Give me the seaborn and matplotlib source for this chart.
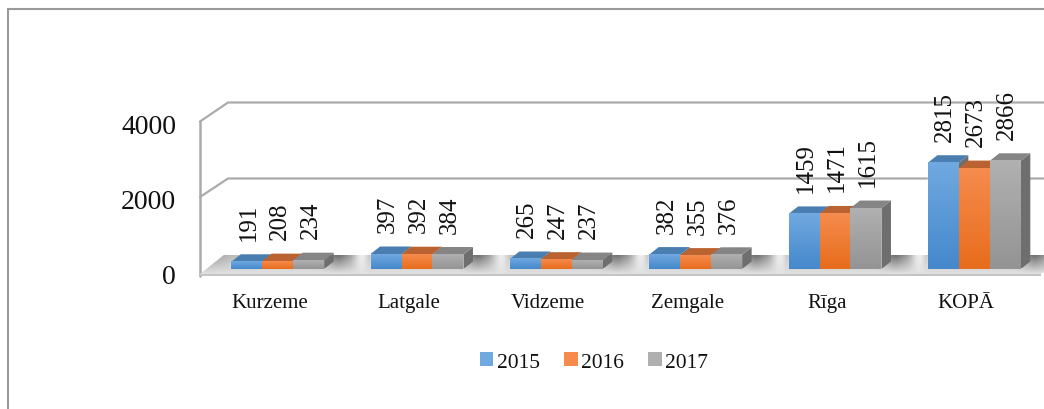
#!/usr/bin/env python3
# -*- coding: utf-8 -*-
import numpy as np
import pandas as pd
import seaborn as sns
import matplotlib.pyplot as plt
from matplotlib.patches import Polygon, Rectangle
from matplotlib.colors import LinearSegmentedColormap
from matplotlib.transforms import Affine2D

regions = ["Kurzeme", "Latgale", "Vidzeme", "Zemgale", "Rīga", "KOPĀ"]
years = ["2015", "2016", "2017"]
v2015 = [191, 397, 265, 382, 1459, 2815]
v2016 = [208, 392, 247, 355, 1471, 2673]
v2017 = [234, 384, 237, 376, 1615, 2866]
yticks = [0, 2000, 4000]

W, H = 1044, 410
colors = {"2015": "#5b9bd5", "2016": "#ed7d31", "2017": "#a5a5a5"}
top_cols = {"2015": "#4a7eb0", "2016": "#bb6330", "2017": "#858585"}
side_col = "#6e6e6e"
grad = {"2015": ("#70a8e0", "#4589cc"), "2016": ("#f58b4d", "#e86d1c"), "2017": ("#b0b0b0", "#949494")}
WALL = "#ababab"

df = pd.DataFrame({"region": regions * 3,
                   "year": [y for y in years for _ in regions],
                   "value": v2015 + v2016 + v2017})

sns.set_theme(style="white")
plt.rcParams["font.family"] = ["Liberation Serif", "DejaVu Serif"]

fig = plt.figure(figsize=(W / 100, H / 100), dpi=100)
ax = fig.add_axes([208 / W, 1 - 270 / H, (1044 - 208) / W, 151 / H])
sns.barplot(data=df, x="region", y="value", hue="year", palette=colors,
            order=regions, hue_order=years, width=0.667, gap=0, saturation=1,
            errorbar=None, ax=ax, zorder=5, legend=False)
ax.set_xlim(-0.5, 5.5)
ax.set_ylim(0, 4000)

# глубина "3D" в единицах данных
PX = 139.4
PY = 151 / 4000
DX, DY = 9.5 / PX, 7.5 / PY


def xd(px):
    return (px - 208) / PX - 0.5


def yd(py):
    return (270 - py) / PY


def deco(pts, **kw):
    ax.add_patch(Polygon(pts, closed=True, clip_on=False, **kw))


# стены и сетка
wl, wb = xd(200), xd(228)
zero_f, zero_b = yd(277), yd(256)
for py_f, py_b in [(198, 179.5), (122.5, 103.5)]:
    ax.plot([wl, wb, xd(1044)], [yd(py_f), yd(py_b), yd(py_b)], color=WALL, lw=1.6, clip_on=False, zorder=2)
ax.plot([wl, wl], [zero_f, yd(122.5)], color=WALL, lw=1.8, clip_on=False, zorder=2)

# пол: мягкие тени между группами, к передней кромке светлее
px_axis = np.arange(200, 1060)
floor_val = 0.6 + 0.15 * np.clip((px_axis - 205) / 30, 0, 1)
for i in range(6):
    c = 277.5 + PX * i
    d = np.abs(px_axis - (c + 60))
    floor_val = np.where(d < 18, 0.42 + 0.3 * d / 18, floor_val)
    d2 = np.abs(px_axis - (c + 84))
    floor_val = np.where(d2 < 9, 0.98 - 0.25 * d2 / 9, floor_val)
floor_val = np.convolve(floor_val, np.ones(7) / 7, mode="same")
depth = np.linspace(0, 1, 20)[:, None]
floor_img = floor_val[None, :] * (1 - depth) + 0.88 * depth
floor_cmap = LinearSegmentedColormap.from_list("floor", ["#000000", "#ffffff"])
im = ax.imshow(floor_img, extent=(xd(200), xd(1060), yd(275), zero_b), cmap=floor_cmap,
               vmin=0, vmax=1, aspect="auto", zorder=3, origin="upper")
floor_poly = Polygon([(wl, yd(275)), (wb - 0.03, zero_b), (xd(1075), zero_b), (xd(1041), yd(275))],
                     closed=True, transform=ax.transData, fc="none", ec="none", clip_on=False)
ax.add_patch(floor_poly)
im.set_clip_box(fig.bbox)
im.set_clip_path(floor_poly)
# передняя кромка пола
deco([(wl, zero_f), (wl, yd(274.5)), (xd(1041), yd(274.5)), (xd(1041), zero_f)], fc="#c4c4c4", ec="none", zorder=4)

# бока и верх столбиков, градиент лицевой части
for bars, year in zip(ax.containers, years):
    for bar in bars:
        x0, w, h = bar.get_x(), bar.get_width(), bar.get_height()
        x1 = x0 + w
        deco([(x1, 0), (x1 + DX, DY), (x1 + DX, h + DY), (x1, h)], fc=side_col, ec="none", zorder=6)
        deco([(x0, h), (x0 + DX, h + DY), (x1 + DX, h + DY), (x1, h)], fc=top_cols[year], ec="none", zorder=6)
for bars, year in zip(ax.containers, years):
    cm = LinearSegmentedColormap.from_list("g" + year, [grad[year][1], grad[year][0]])
    for bar in bars:
        x0, w, h = bar.get_x(), bar.get_width(), bar.get_height()
        g = ax.imshow(np.linspace(1, 0, 32)[:, None], extent=(x0, x0 + w, 0, h), cmap=cm,
                      vmin=0, vmax=1, aspect="auto", zorder=7)
        g.set_clip_on(False)
ax.set_xlim(-0.5, 5.5)
ax.set_ylim(0, 4000)

# подписи значений
for bars, year in zip(ax.containers, years):
    for bar in bars:
        h = bar.get_height()
        ax.annotate(f"{h:.0f}", (bar.get_x() + bar.get_width() / 2, h), xytext=(2, 22),
                    textcoords="offset pixels", rotation=90, ha="center", va="bottom",
                    fontsize=18, color="#111111", zorder=9, annotation_clip=False)

sns.despine(ax=ax, left=True, bottom=True)
ax.grid(False)
ax.patch.set_alpha(0)
ax.set_xlabel("")
ax.set_ylabel("")
ax.set_yticks(yticks)
ax.set_yticklabels([str(t) for t in yticks], fontsize=20, color="#111111")
ax.tick_params(axis="y", length=0, pad=23)
ax.set_xticks(range(len(regions)))
ax.set_xticklabels(regions, fontsize=15, color="#111111")
ax.tick_params(axis="x", length=0, pad=17)
for lab in ax.get_xticklabels():
    lab.set_transform(lab.get_transform() + Affine2D().translate(-8, 0))
for lab in ax.get_yticklabels():
    lab.set_transform(lab.get_transform() + Affine2D().translate(0, -5))

# легенда
handles = [Rectangle((0, 0), 1, 1, fc=grad[y][0], ec="none") for y in years]
fig.legend(handles, years, loc="center", bbox_to_anchor=(594 / W, 1 - 363 / H), ncol=3, frameon=False,
           fontsize=15.5, handlelength=0.62, handleheight=0.62, handletextpad=0.15, columnspacing=1.15,
           labelcolor="#111111")

# рамка
fig.add_artist(plt.Line2D([8 / W, 8 / W], [0, 1 - 10 / H], color="#9a9a9a", lw=1.5))
fig.add_artist(plt.Line2D([8 / W, 1], [1 - 10 / H, 1 - 10 / H], color="#9a9a9a", lw=1.5))

fig.savefig("out.png", dpi=100)
